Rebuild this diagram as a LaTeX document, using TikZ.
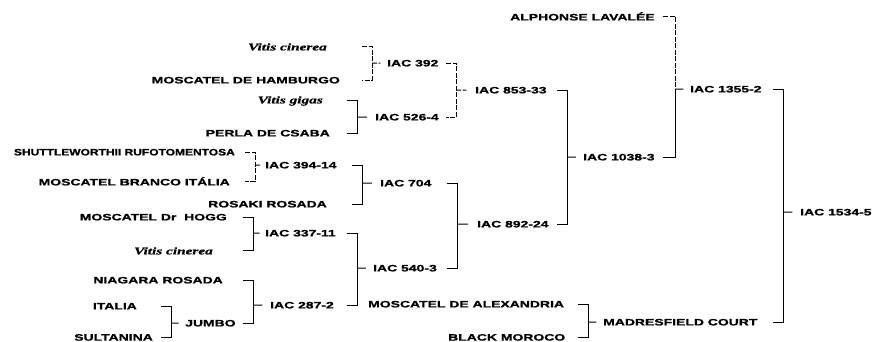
\documentclass[tikz,border=0pt]{standalone}
\usepackage{fontspec}
\usetikzlibrary{calc}
\newfontfamily\labfont[FakeStretch=1.5,BoldFeatures={FakeBold=1.2}]{Liberation Sans}
\newfontfamily\latfont[FakeStretch=1.5,BoldItalicFeatures={FakeBold=1}]{Liberation Serif}
\tikzset{
  lab/.style={font=\labfont\bfseries\fontsize{9.3}{10}\selectfont, inner sep=0pt},
  lat/.style={font=\latfont\bfseries\itshape\fontsize{10.2}{11}\selectfont, inner sep=0pt},
  leaf/.style={anchor=base east},
  cross/.style={anchor=base west},
  link/.style={line width=1pt},
  broken/.style={dash pattern=on 5pt off 1.5pt}
}
\newcommand\brk[5][]{%
  \coordinate (bx) at (#5,0);
  \draw[link,#1] ([xshift=-10pt]#2.east -| bx) -- (#2.east -| bx) -- (#3.east -| bx) -- ([xshift=-10pt]#3.east -| bx);
  \draw[link,#1] (#4.west -| bx) -- ($(#4.west -| bx)!0.55!(#4.west)$);
}
\begin{document}
\begin{tikzpicture}[x=1pt,y=-1pt]
\useasboundingbox (0,0) rectangle (874,342);
% leaves
\node[lat,leaf] (vc1) at (327,50.4) {Vitis cinerea};
\node[lab,leaf] (mh) at (340,83.4) {MOSCATEL DE HAMBURGO};
\node[lat,leaf] (vg) at (323,103.4) {Vitis gigas};
\node[lab,leaf] (pc) at (330,136.4) {PERLA DE CSABA};
\node[lab,leaf] (sh) at (235,155.4) {\scalebox{0.86}[1]{SHUTTLEWORTHII RUFOTOMENTOSA}};
\node[lab,leaf] (mb) at (230,185.4) {MOSCATEL BRANCO ITÁLIA};
\node[lab,leaf] (rr) at (327,207.4) {ROSAKI ROSADA};
\node[lab,leaf] (mdh) at (227,220.4) {MOSCATEL Dr\ \ HOGG};
\node[lat,leaf] (vc2) at (213,254.4) {Vitis cinerea};
\node[lab,leaf] (nr) at (223,283.4) {NIAGARA ROSADA};
\node[lab,leaf] (it) at (137,309.4) {ITALIA};
\node[lab,leaf] (su) at (153,340.6) {SULTANINA};
\node[lab,cross] (al) at (510,20.4) {ALPHONSE LAVALÉE};
\node[lab,cross] (ma) at (368,307.4) {MOSCATEL DE ALEXANDRIA};
\node[lab,cross] (bm) at (448,340.6) {BLACK MOROCO};
% crosses
\node[lab,cross] (i392) at (387,66.4) {IAC 392};
\node[lab,cross] (i5264) at (375,120.4) {IAC 526-4};
\node[lab,cross] (i85333) at (475,93.4) {IAC 853-33};
\node[lab,cross] (i39414) at (265,168.4) {IAC 394-14};
\node[lab,cross] (i704) at (380,186.4) {IAC 704};
\node[lab,cross] (i33711) at (265,236.4) {IAC 337-11};
\node[lab,cross] (i2872) at (270,308.4) {IAC 287-2};
\node[lab,cross] (jumbo) at (185,326.4) {JUMBO};
\node[lab,cross] (i5403) at (373,271.4) {IAC 540-3};
\node[lab,cross] (i89224) at (477,227.4) {IAC 892-24};
\node[lab,cross] (i10383) at (583,160.4) {IAC 1038-3};
\node[lab,cross] (i13552) at (690,92.4) {IAC 1355-2};
\node[lab,cross] (mc) at (603,325.4) {MADRESFIELD COURT};
\node[lab,cross] (i15345) at (800,215.4) {IAC 1534-5};
% brackets
\brk[broken]{vc1}{mh}{i392}{372}
\brk{vg}{pc}{i5264}{357}
\brk[broken]{i392}{i5264}{i85333}{456}
\brk[broken]{sh}{mb}{i39414}{255}
\brk{i39414}{rr}{i704}{362}
\brk{mdh}{vc2}{i33711}{253}
\brk{nr}{jumbo}{i2872}{253}
\brk{it}{su}{jumbo}{171}
\brk{i33711}{i2872}{i5403}{357}
\brk{i704}{i5403}{i89224}{457}
\brk{i85333}{i89224}{i10383}{567}
\brk{ma}{bm}{mc}{588}
\brk{i13552}{mc}{i15345}{783}
\coordinate (bx) at (675,0);
\draw[link,broken] ([xshift=-12pt]al.east -| bx) -- (al.east -| bx) -- (i13552.west -| bx);
\draw[link] (i13552.west -| bx) -- (i10383.east -| bx) -- ([xshift=-12pt]i10383.east -| bx);
\draw[link] (i13552.west -| bx) -- ($(i13552.west -| bx)!0.55!(i13552.west)$);
\end{tikzpicture}
\end{document}
